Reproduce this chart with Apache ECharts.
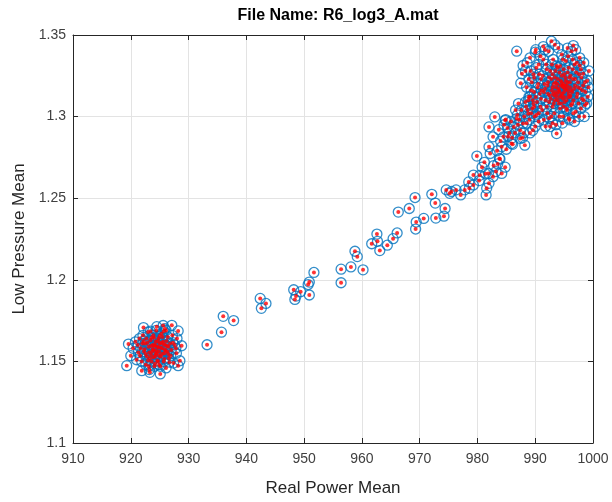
<!DOCTYPE html>
<html>
<head>
<meta charset="utf-8">
<script src="https://cdn.jsdelivr.net/npm/echarts@6/dist/echarts.min.js"></script>
<style>
html,body{margin:0;padding:0;background:#fff;}
#chart{width:612px;height:502px;}
</style>
</head>
<body>
<div id="chart"></div>
<script>
// ---- data ----
var titleText = 'File Name: R6_log3_A.mat';
var xName = 'Real Power Mean';
var yName = 'Low Pressure Mean';
var xTicks = [910, 920, 930, 940, 950, 960, 970, 980, 990, 1000];
var yTicks = [1.1, 1.15, 1.2, 1.25, 1.3, 1.35];

// lower cluster
var lowX = [919.3,919.6,920.0,920.4,921.3,921.9,922.2,923.3,924.5,925.1,925.6,927.1,928.2,928.8,928.5,928.2,
  920.8,921.0,921.5,921.7,921.9,922.1,922.3,922.5,922.6,922.8,923.0,923.1,923.2,923.4,923.5,923.6,923.8,923.9,
  924.0,924.1,924.2,924.3,924.4,924.5,924.6,924.7,924.8,924.9,925.0,925.1,925.2,925.3,925.4,925.6,925.7,925.8,
  925.9,926.0,926.1,926.3,926.4,926.6,926.8,927.0,927.2,927.4,927.6,927.9,928.0,922.0,923.7,924.9,925.5,926.5,
  922.7,924.2,923.3,
  922.4,922.9,923.2,923.6,923.9,924.1,924.4,924.7,924.9,925.2,925.4,925.7,926.0,926.2,926.5,923.0,923.5,924.0,
  924.6,925.0,925.8,926.3,922.6,923.8,924.3,924.8,925.3,925.9,926.9,921.6,922.2,927.3,923.4,925.7,924.2,926.7,
  921.2,927.8,923.1,926.1];
var lowY = [1.1474,1.1606,1.1535,1.1580,1.1555,1.1443,1.1707,1.1433,1.1713,1.1423,1.1720,1.1721,1.1687,1.1596,1.1504,1.1474,
  1.1620,1.1510,1.1640,1.1580,1.1500,1.1660,1.1560,1.1610,1.1480,1.1530,1.1680,1.1590,1.1450,1.1630,1.1540,1.1500,1.1600,1.1660,
  1.1570,1.1470,1.1530,1.1620,1.1690,1.1550,1.1590,1.1500,1.1640,1.1560,1.1610,1.1470,1.1530,1.1670,1.1580,1.1620,1.1500,1.1550,
  1.1700,1.1600,1.1460,1.1560,1.1650,1.1520,1.1610,1.1570,1.1660,1.1490,1.1600,1.1550,1.1640,1.1610,1.1560,1.1480,1.1650,1.1590,
  1.1640,1.1600,1.1520,
  1.1575,1.1615,1.1555,1.1645,1.1525,1.1595,1.1565,1.1625,1.1535,1.1585,1.1545,1.1605,1.1565,1.1625,1.1545,1.1505,1.1595,1.1645,
  1.1505,1.1655,1.1515,1.1595,1.1545,1.1575,1.1545,1.1585,1.1615,1.1575,1.1535,1.1535,1.1625,1.1615,1.1685,1.1685,1.1485,1.1495,
  1.1600,1.1580,1.1470,1.1690];

// transition
var midX = [933.2,935.7,936.0,937.8,942.4,942.6,943.4,948.2,948.4,948.6,949.4,950.7,950.9,950.9,951.7,956.4,956.4,958.1,960.2,
  958.8,959.2,961.7,962.6,962.7,963.1,964.4,965.4,966.1,966.3,968.2,969.2,969.4,969.3,970.7,972.1,972.7,972.8,974.2,974.4,974.6,975.2,
  975.5,976.3,977.1,977.8,978.6,979.3,979.3,979.9,980.3,981.5,981.6,982.0,981.9,982.7,983.2,984.2,982.0,982.2,982.7,982.0,983.0,
  983.8,984.2,984.9,985.9,986.3,987.4,988.2,986.8,988.8,989.7,989.1,984.5,985.3,987.4,987.9,989.6,
  980.8,981.2,983.5,984.8,985.5,986.0,987.0,988.0,988.5,989.0,990.0,985.0,983.4,978.5,
  985.2,985.8,986.5,986.9,987.2,987.6,988.1,988.4,988.9,989.3,989.8,990.2,990.6,986.1,987.8,989.1,984.0,983.7,
  984.6,986.6,988.3,987.1,982.8,981.4,980.4,983.9];
var midY = [1.1602,1.1679,1.1776,1.1750,1.1886,1.1825,1.1855,1.1939,1.1880,1.1900,1.1927,1.1971,1.1986,1.1907,1.2045,1.2065,1.1982,1.2079,1.2061,
  1.2175,1.2142,1.2221,1.2280,1.2236,1.2179,1.2212,1.2252,1.2287,1.2415,1.2437,1.2504,1.2354,1.2311,1.2376,1.2524,1.2470,1.2378,1.2390,1.2437,1.2551,1.2530,
  1.2541,1.2551,1.2520,1.2551,1.2561,1.2581,1.2642,1.2758,1.2608,1.2520,1.2561,1.2591,1.2652,1.2632,1.2663,1.2652,1.2815,1.2774,1.2876,1.2937,1.2998,
  1.2744,1.2815,1.2982,1.2835,1.2937,1.2916,1.2825,1.2988,1.3018,1.3079,1.3122,1.2876,1.2878,1.2866,1.2957,1.2916,
  1.2690,1.2720,1.2710,1.2690,1.2900,1.2870,1.2950,1.2900,1.2960,1.2980,1.2940,1.2800,1.2790,1.2600,
  1.2930,1.2970,1.2900,1.3010,1.2980,1.3040,1.3000,1.3060,1.3120,1.3020,1.3060,1.3010,1.2970,1.2830,1.2870,1.2900,1.2850,1.2920,
  1.2950,1.3040,1.3090,1.3080,1.2700,1.2650,1.2640,1.2740];

// upper cluster
var highX = [986.8,996.6,992.8,991.4,990.0,989.1,987.9,987.7,987.5,989.8,984.8,998.6,999.1,997.7,998.3,993.7,992.6,
  988.5,988.8,989.2,989.5,989.8,990.2,990.5,990.6,990.9,991.0,991.3,991.5,991.7,991.9,992.0,992.2,992.3,992.5,992.6,992.8,
  993.0,993.1,993.2,993.4,993.5,993.6,993.7,993.8,993.9,994.0,994.1,994.2,994.3,994.4,994.5,994.6,994.7,994.8,994.9,995.0,
  995.1,995.2,995.3,995.4,995.5,995.6,995.7,995.8,995.9,996.0,996.1,996.2,996.3,996.4,996.5,996.6,996.8,996.9,997.0,997.1,
  997.3,997.4,997.5,997.7,997.8,998.0,998.1,998.3,998.5,998.7,999.0,993.3,994.0,994.8,995.2,993.8,994.5,995.0,993.5,992.9,
  994.3,995.6,994.9,996.0,993.0,992.4,991.2,990.3,989.4,990.7,988.7,989.9,991.8,992.4,994.7,996.8,997.9,998.9,
  991.5,991.8,992.1,992.4,992.7,993.0,993.2,993.5,993.7,993.9,994.1,994.2,994.4,994.6,994.7,994.9,995.1,995.3,
  995.4,995.6,995.8,996.0,996.2,996.4,996.5,996.7,996.9,997.2,997.4,997.6,993.1,993.6,994.3,994.8,995.0,995.5,
  996.1,993.4,994.6,995.9,992.8,992.2,991.6,991.1,990.8,990.4,990.1,989.6,989.3,998.2,998.6,997.9,997.2,996.5,
  995.7,994.8,993.9,992.9,992.0,991.4,990.6,995.4,996.6,997.6,993.3,992.1,990.9,998.4,999.2,994.2,995.8,993.0,
  991.0,989.7,988.9,988.3,988.6,990.1,991.7,993.4,995.6,997.0,998.4,999.3];
var highY = [1.3401,1.3435,1.3462,1.3429,1.3395,1.3360,1.3313,1.3262,1.3205,1.3238,1.2977,1.3069,1.3122,1.3313,1.3262,1.2896,1.2939,
  1.3180,1.3100,1.3280,1.3050,1.3150,1.3300,1.3200,1.3020,1.3370,1.3110,1.3250,1.2980,1.3170,1.3320,1.3060,1.3210,1.3400,1.3130,1.3280,1.3000,
  1.3180,1.3350,1.3080,1.3240,1.3150,1.2950,1.3310,1.3200,1.3100,1.3420,1.3160,1.3270,1.3050,1.3220,1.3130,1.3380,1.3190,1.3000,1.3290,1.3150,
  1.3090,1.3240,1.3340,1.3170,1.3040,1.3210,1.3120,1.3300,1.2980,1.3180,1.3250,1.3070,1.3400,1.3150,1.3230,1.3100,1.3320,1.3190,1.3030,1.3270,
  1.3140,1.3210,1.3080,1.3360,1.3170,1.3240,1.3110,1.3190,1.3000,1.3150,1.3220,1.3130,1.3170,1.3110,1.3190,1.3140,1.3080,1.3260,1.3210,1.3160,
  1.3310,1.3160,1.3200,1.3120,1.3260,1.3090,1.3040,1.3090,1.3210,1.3260,1.3040,1.3000,1.2940,1.2990,1.2960,1.2970,1.3050,1.3080,
  1.3150,1.3100,1.3190,1.3240,1.3110,1.3060,1.3200,1.3280,1.3120,1.3230,1.3080,1.3150,1.3190,1.3250,1.3140,1.3060,1.3170,1.3220,
  1.3100,1.3270,1.3140,1.3210,1.3160,1.3080,1.3290,1.3170,1.3230,1.3120,1.3180,1.3260,1.3140,1.3180,1.3120,1.3180,1.3120,1.3190,
  1.3130,1.3100,1.3210,1.3240,1.3230,1.3140,1.3200,1.3160,1.3140,1.3180,1.3120,1.3100,1.3160,1.3160,1.3210,1.3290,1.3330,1.3350,
  1.3370,1.3350,1.3300,1.3320,1.3290,1.3350,1.3320,1.3050,1.3020,1.3000,1.3020,1.3020,1.3060,1.3100,1.3180,1.3000,1.2990,1.2960,
  1.3230,1.3260,1.3230,1.3280,1.3330,1.3410,1.3410,1.3440,1.3420,1.3410,1.3330,1.3280];

// ---- build ----
function pairs(xs, ys) { var out = []; for (var i = 0; i < xs.length; i++) out.push([xs[i], ys[i]]); return out; }
var points = pairs(lowX, lowY).concat(pairs(midX, midY), pairs(highX, highY));

var FONT = 'Liberation Sans, Arial, Helvetica, sans-serif';
var AX = '#262626';
var chart = echarts.init(document.getElementById('chart'), null, {renderer: 'canvas'});

function baseX(show) {
  return {
    type: 'value', min: xTicks[0], max: xTicks[xTicks.length - 1], interval: xTicks[1] - xTicks[0],
    position: show ? 'bottom' : 'top',
    name: show ? xName : '', nameLocation: 'middle', nameGap: 37,
    nameTextStyle: {fontFamily: FONT, fontSize: 17, color: AX},
    axisLine: {show: true, onZero: false, lineStyle: {color: AX, width: 1}},
    axisTick: {show: true, inside: true, length: 5, lineStyle: {color: AX}},
    axisLabel: {show: show, fontFamily: FONT, fontSize: 14, color: '#404040', margin: 9,
      formatter: function (v) { return String(v); }},
    splitLine: {show: show, lineStyle: {color: '#e3e3e3', width: 1}}
  };
}
function baseY(show) {
  return {
    type: 'value', min: yTicks[0], max: yTicks[yTicks.length - 1], interval: 0.05,
    position: show ? 'left' : 'right',
    name: show ? yName : '', nameLocation: 'middle', nameGap: 45,
    nameTextStyle: {fontFamily: FONT, fontSize: 17, color: AX},
    axisLine: {show: true, onZero: false, lineStyle: {color: AX, width: 1}},
    axisTick: {show: true, inside: true, length: 5, lineStyle: {color: AX}},
    axisLabel: {show: show, fontFamily: FONT, fontSize: 14, color: '#404040', margin: 7,
      formatter: function (v) { return String(Math.round(v * 100) / 100); }},
    splitLine: {show: show, lineStyle: {color: '#e3e3e3', width: 1}}
  };
}

chart.setOption({
  backgroundColor: '#ffffff',
  animation: false,
  title: {
    text: titleText, left: 333, top: 3, textAlign: 'center',
    textStyle: {fontFamily: FONT, fontSize: 16, fontWeight: 'bold', color: '#000'}
  },
  grid: {left: 73, right: 19, top: 35, bottom: 56, containLabel: false},
  xAxis: [baseX(true), baseX(false)],
  yAxis: [baseY(true), baseY(false)],
  series: [
    {
      type: 'scatter', xAxisIndex: 0, yAxisIndex: 0, data: points,
      symbol: 'circle', symbolSize: 10,
      itemStyle: {color: 'rgba(0,0,0,0)', borderColor: '#0072BD', borderWidth: 1.3},
      emphasis: {disabled: true}, z: 2
    },
    {
      type: 'scatter', xAxisIndex: 0, yAxisIndex: 0, data: points,
      symbol: 'circle', symbolSize: 4,
      itemStyle: {color: '#ff0000'},
      emphasis: {disabled: true}, z: 3
    }
  ]
});
</script>
</body>
</html>
